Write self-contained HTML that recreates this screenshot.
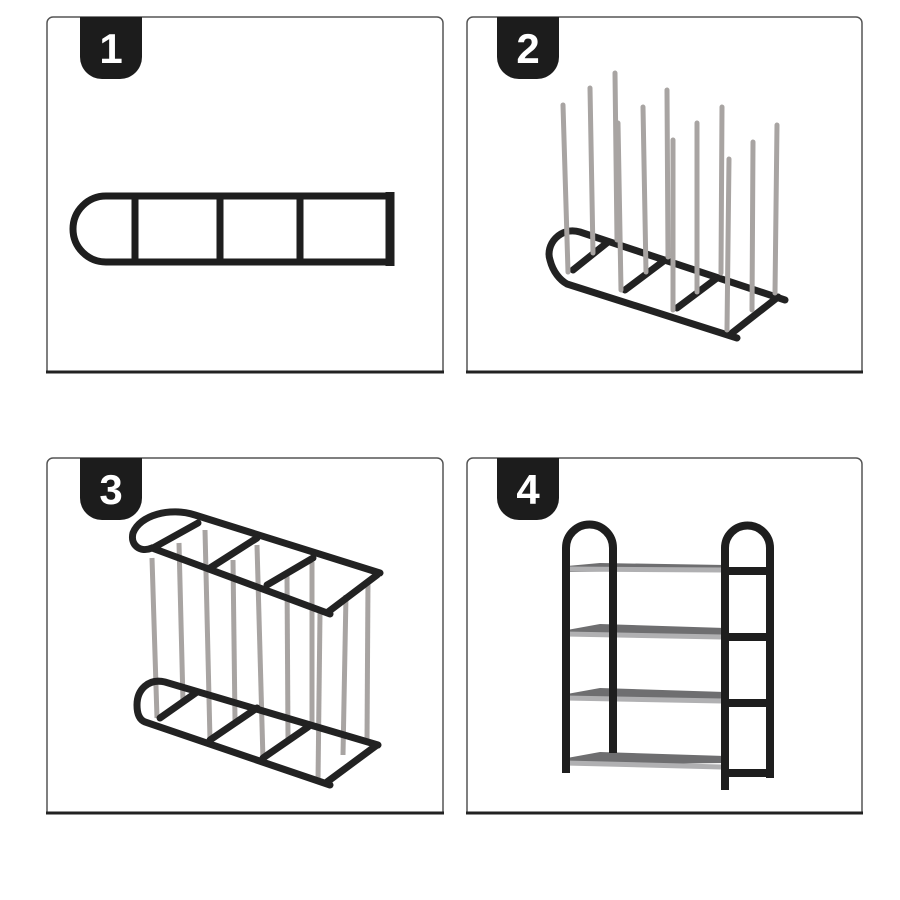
<!DOCTYPE html>
<html><head><meta charset="utf-8"><style>
html,body{margin:0;padding:0;background:#fff;}
svg{display:block;}
</style></head><body>
<svg width="900" height="900" viewBox="0 0 900 900" xmlns="http://www.w3.org/2000/svg">
<defs>
<g id="badgeShape"><path d="M0 0 H62 V40 A22 22 0 0 1 40 62 H22 A22 22 0 0 1 0 40 Z" fill="#1c1c1c"/></g>
</defs>
<g fill="none" stroke="#555" stroke-width="1.5">
<path d="M47 371 V23 A6 6 0 0 1 53 17 H437 A6 6 0 0 1 443 23 V371"/>
<path d="M467 371 V23 A6 6 0 0 1 473 17 H856 A6 6 0 0 1 862 23 V371"/>
<path d="M47 812 V464 A6 6 0 0 1 53 458 H437 A6 6 0 0 1 443 464 V812"/>
<path d="M467 812 V464 A6 6 0 0 1 473 458 H856 A6 6 0 0 1 862 464 V812"/>
</g>
<g stroke="#222" stroke-width="3">
<line x1="46" y1="372" x2="444" y2="372"/><line x1="466" y1="372" x2="863" y2="372"/>
<line x1="46" y1="813" x2="444" y2="813"/><line x1="466" y1="813" x2="863" y2="813"/>
</g>
<use href="#badgeShape" x="80" y="17"/><use href="#badgeShape" x="497" y="17"/>
<use href="#badgeShape" x="80" y="458"/><use href="#badgeShape" x="497" y="458"/>
<g fill="#fff" font-family="Liberation Sans, sans-serif" font-weight="bold" font-size="42" text-anchor="middle">
<text x="111" y="63">1</text><text x="528" y="63">2</text><text x="111" y="504">3</text><text x="528" y="504">4</text>
</g>

<!-- Panel 1 -->
<g fill="none" stroke="#1e1e1e" stroke-width="7">
<path d="M390 196 H106 A33 33 0 0 0 106 262 H390"/>
<line x1="135" y1="196" x2="135" y2="262"/>
<line x1="220" y1="196" x2="220" y2="262"/>
<line x1="300" y1="196" x2="300" y2="262"/>
<line x1="390" y1="192" x2="390" y2="266" stroke-width="9"/>
</g>

<!-- Panel 2 -->
<g fill="none" stroke="#222" stroke-width="7" stroke-linecap="round">
<path d="M785 300 L580 232 C560 226 545 245 550 260 C553 272 560 280 567 284 L737 338"/>
<line x1="573" y1="270" x2="608" y2="242"/>
<line x1="625" y1="290" x2="665" y2="260"/>
<line x1="677" y1="308" x2="717" y2="278"/>
<line x1="732" y1="333" x2="778" y2="297"/>
</g>
<g stroke="#a8a4a2" stroke-width="5" stroke-linecap="round">
<line x1="563" y1="105" x2="568" y2="272"/><line x1="590" y1="88" x2="593" y2="253"/>
<line x1="615" y1="73" x2="617" y2="240"/><line x1="618" y1="123" x2="621" y2="290"/>
<line x1="643" y1="107" x2="646" y2="272"/><line x1="667" y1="90" x2="668" y2="257"/>
<line x1="673" y1="140" x2="673" y2="310"/><line x1="697" y1="123" x2="697" y2="292"/>
<line x1="722" y1="107" x2="721" y2="273"/><line x1="729" y1="159" x2="727" y2="330"/>
<line x1="753" y1="142" x2="752" y2="310"/><line x1="777" y1="125" x2="775" y2="293"/>
</g>

<!-- Panel 3 -->
<g stroke="#a8a4a2" stroke-width="5">
<line x1="152" y1="558" x2="157" y2="718"/><line x1="179" y1="543" x2="183" y2="702"/>
<line x1="205" y1="530" x2="210" y2="740"/><line x1="233" y1="560" x2="235" y2="720"/>
<line x1="257" y1="545" x2="263" y2="760"/><line x1="287" y1="575" x2="288" y2="738"/>
<line x1="312" y1="562" x2="312" y2="725"/><line x1="320" y1="613" x2="318" y2="782"/>
<line x1="346" y1="595" x2="343" y2="755"/><line x1="368" y1="580" x2="367" y2="742"/>
</g>
<g fill="none" stroke="#222" stroke-width="7" stroke-linecap="round">
<path d="M380 573 L195 515 C170 507 140 515 133 533 C130 545 140 553 152 548 L330 614"/>
<line x1="153" y1="548" x2="198" y2="523"/>
<line x1="210" y1="568" x2="257" y2="538"/>
<line x1="267" y1="585" x2="313" y2="558"/>
<line x1="328" y1="612" x2="377" y2="575"/>
<path d="M378 745 L165 682 C148 678 137 690 137 705 C137 715 140 720 145 722 L330 785"/>
<line x1="160" y1="718" x2="197" y2="692"/>
<line x1="210" y1="740" x2="257" y2="708"/>
<line x1="263" y1="758" x2="308" y2="727"/>
<line x1="327" y1="782" x2="377" y2="745"/>
</g>

<!-- Panel 4 -->
<g fill="#6e6e70">
<polygon points="567,566 600,563 725,565 725,570 567,572"/>
<polygon points="567,630 600,624 725,628 725,635 567,636"/>
<polygon points="567,694 600,688 725,692 725,699 567,700"/>
<polygon points="567,758 600,752 725,756 725,763 567,765"/>
</g>
<g stroke="#b0b0b2" stroke-width="5">
<line x1="565" y1="569" x2="722" y2="570"/>
<line x1="565" y1="634" x2="722" y2="637"/>
<line x1="565" y1="698" x2="722" y2="701"/>
<line x1="565" y1="763" x2="722" y2="767"/>
</g>
<g fill="none" stroke="#1e1e1e" stroke-width="8">
<path d="M566 773 V548 A23.5 23.5 0 0 1 613 548 V753"/>
<path d="M725 790 V548 A22.5 22.5 0 0 1 770 548 V778"/>
<line x1="722" y1="571" x2="770" y2="571"/>
<line x1="722" y1="637" x2="770" y2="637"/>
<line x1="722" y1="703" x2="770" y2="703"/>
<line x1="722" y1="773" x2="770" y2="773"/>
</g>
</svg>
</body></html>
